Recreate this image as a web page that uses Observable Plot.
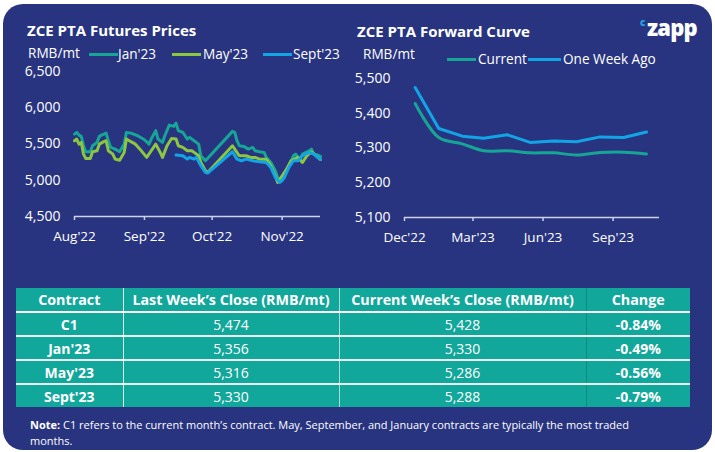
<!DOCTYPE html>
<html><head><meta charset="utf-8">
<script src="https://cdn.jsdelivr.net/npm/d3@7"></script>
<script src="https://cdn.jsdelivr.net/npm/@observablehq/plot@0.6"></script>
<style>
html,body{margin:0;padding:0;background:#fff;}
body{width:715px;height:452px;position:relative;overflow:hidden;font-family:"Open Sans",sans-serif;}
#card{position:absolute;left:3px;top:4px;width:709px;height:446px;background:#283480;border-radius:20px;}
.abs{position:absolute;white-space:nowrap;}
.title{color:#fff;font-weight:700;font-size:15px;line-height:15px;}
.lg{color:#fff;font-size:13.6px;line-height:13.6px;}
.sw{position:absolute;width:29px;height:3px;}
#tbl{position:absolute;left:16px;top:288px;width:674px;border-collapse:collapse;background:#12a79b;color:#fff;font-size:14px;table-layout:fixed;}
#tbl th{height:23px;font-weight:700;border-bottom:2px solid #fff;padding:0;text-align:center;font-size:14.3px;}
#tbl td{height:22px;padding:0;text-align:center;border-bottom:2px solid #eef6f5;}
#tbl tr:last-child td{border-bottom:none;}
#tbl td.b{font-weight:700;}
#tbl .c1{border-right:1.5px solid #d8efec;}
#tbl .c2{border-right:1px solid #a9d9d4;}
#tbl .c3{border-right:1px solid #0e8d84;}
.note{color:#fff;font-size:11px;line-height:16px;}
</style></head>
<body>
<div id="card"></div>
<div class="abs title" style="left:27px;top:23px;">ZCE PTA Futures Prices</div>
<div class="abs title" style="left:357px;top:24px;">ZCE PTA Forward Curve</div>
<div class="abs" style="left:640px;top:15px;color:#1ea7e8;font-size:10px;font-weight:800;">c</div>
<div class="abs" style="left:647px;top:12px;color:#fff;font-size:22px;font-weight:800;letter-spacing:-0.8px;">zapp</div>

<div class="abs lg" style="left:28px;top:46px;">RMB/mt</div>
<div class="sw" style="left:89px;top:53px;background:#17a596;"></div>
<div class="abs lg" style="left:118px;top:47px;">Jan'23</div>
<div class="sw" style="left:172px;top:53px;background:#8dc63f;"></div>
<div class="abs lg" style="left:203px;top:47px;">May'23</div>
<div class="sw" style="left:263px;top:53px;background:#12a5e6;"></div>
<div class="abs lg" style="left:293px;top:47px;">Sept'23</div>

<div class="abs lg" style="left:363px;top:47px;">RMB/mt</div>
<div class="sw" style="left:447px;top:58px;background:#17a596;"></div>
<div class="abs lg" style="left:478px;top:52px;">Current</div>
<div class="sw" style="left:528px;top:58px;width:33px;background:#12a5e6;"></div>
<div class="abs lg" style="left:563px;top:52px;">One Week Ago</div>

<div id="left" class="abs" style="left:0px;top:60px;"></div>
<div id="right" class="abs" style="left:340px;top:60px;"></div>

<table id="tbl"><colgroup><col style="width:107px"><col style="width:216px"><col style="width:247px"><col style="width:104px"></colgroup><thead></thead><tbody></tbody></table>
<div class="abs note" style="left:30px;top:417px;"><b>Note:</b> C1 refers to the current month’s contract. May, September, and January contracts are typically the most traded</div>
<div class="abs note" style="left:30px;top:433px;">months.</div>

<script>
// ---- Futures prices (RMB/mt) ----
const jan23 = [["2022-08-01",5636],["2022-08-02",5660],["2022-08-03",5623],["2022-08-04",5605],["2022-08-05",5476],["2022-08-06",5393],["2022-08-08",5393],["2022-08-09",5476],["2022-08-11",5522],["2022-08-12",5605],["2022-08-13",5623],["2022-08-15",5650],["2022-08-16",5545],["2022-08-17",5453],["2022-08-19",5429],["2022-08-21",5393],["2022-08-23",5498],["2022-08-24",5660],["2022-08-26",5650],["2022-08-29",5614],["2022-09-01",5559],["2022-09-03",5498],["2022-09-04",5568],["2022-09-06",5684],["2022-09-07",5568],["2022-09-09",5522],["2022-09-10",5614],["2022-09-12",5761],["2022-09-14",5743],["2022-09-15",5788],["2022-09-16",5684],["2022-09-18",5660],["2022-09-19",5614],["2022-09-20",5568],["2022-09-21",5591],["2022-09-23",5545],["2022-09-25",5498],["2022-09-26",5338],["2022-09-28",5269],["2022-10-10",5674],["2022-10-11",5660],["2022-10-12",5545],["2022-10-13",5476],["2022-10-15",5467],["2022-10-17",5429],["2022-10-19",5453],["2022-10-20",5407],["2022-10-22",5393],["2022-10-24",5384],["2022-10-25",5315],["2022-10-27",5246],["2022-10-29",5131],["2022-10-30",5039],["2022-11-01",4993],["2022-11-02",5084],["2022-11-03",5153],["2022-11-05",5269],["2022-11-06",5338],["2022-11-07",5360],["2022-11-09",5291],["2022-11-10",5360],["2022-11-13",5407],["2022-11-14",5429],["2022-11-15",5360],["2022-11-17",5345],["2022-11-18",5330]];
const may23 = [["2022-08-01",5545],["2022-08-02",5568],["2022-08-03",5498],["2022-08-04",5522],["2022-08-05",5360],["2022-08-06",5301],["2022-08-08",5301],["2022-08-09",5393],["2022-08-11",5407],["2022-08-12",5498],["2022-08-14",5532],["2022-08-15",5545],["2022-08-16",5407],["2022-08-18",5360],["2022-08-19",5291],["2022-08-21",5277],["2022-08-23",5384],["2022-08-24",5568],["2022-08-26",5532],["2022-08-28",5498],["2022-08-30",5429],["2022-09-02",5315],["2022-09-04",5407],["2022-09-06",5498],["2022-09-08",5384],["2022-09-09",5315],["2022-09-11",5476],["2022-09-13",5577],["2022-09-15",5568],["2022-09-16",5476],["2022-09-18",5453],["2022-09-20",5407],["2022-09-22",5407],["2022-09-23",5384],["2022-09-25",5338],["2022-09-26",5246],["2022-09-28",5131],["2022-09-29",5108],["2022-10-10",5476],["2022-10-11",5429],["2022-10-13",5338],["2022-10-16",5338],["2022-10-18",5315],["2022-10-20",5315],["2022-10-22",5291],["2022-10-25",5291],["2022-10-27",5200],["2022-10-29",5062],["2022-10-30",4970],["2022-11-01",5062],["2022-11-03",5153],["2022-11-05",5269],["2022-11-08",5315],["2022-11-10",5246],["2022-11-12",5338],["2022-11-14",5393],["2022-11-16",5338],["2022-11-18",5286]];
const sep23 = [["2022-09-15",5347],["2022-09-18",5338],["2022-09-20",5291],["2022-09-21",5315],["2022-09-23",5291],["2022-09-24",5315],["2022-09-26",5200],["2022-09-28",5108],["2022-09-29",5098],["2022-10-10",5393],["2022-10-12",5291],["2022-10-14",5269],["2022-10-16",5291],["2022-10-19",5269],["2022-10-22",5255],["2022-10-25",5246],["2022-10-27",5177],["2022-10-29",5039],["2022-10-31",4970],["2022-11-02",5039],["2022-11-04",5177],["2022-11-06",5269],["2022-11-08",5269],["2022-11-10",5338],["2022-11-13",5384],["2022-11-15",5360],["2022-11-17",5315],["2022-11-18",5288]];
const futuresXTicks = ["2022-08-01","2022-09-01","2022-10-01","2022-11-01"];
const futuresYTicks = [4500,5000,5500,6000,6500];

// ---- Forward curve (RMB/mt) ----
const fwdMonths = ["2022-12-15","2023-01-15","2023-02-15","2023-03-15","2023-04-15","2023-05-15","2023-06-15","2023-07-15","2023-08-15","2023-09-15","2023-10-15"];
const currentCurve = [5428,5330,5312,5292,5292,5286,5286,5280,5287,5288,5283];
const weekAgoCurve = [5474,5356,5334,5328,5338,5316,5320,5318,5332,5330,5346];
const fwdXTicks = ["2022-12-01","2023-03-01","2023-06-01","2023-09-01"];
const fwdYTicks = [5100,5200,5300,5400,5500];

// ---- Table ----
const contracts = ["C1","Jan'23","May'23","Sept'23"];
const lastWeekClose = [5474,5356,5316,5330];
const currentWeekClose = [5428,5330,5286,5288];
const changePct = ["-0.84%","-0.49%","-0.56%","-0.79%"];
const headers = ["Contract","Last Week’s Close (RMB/mt)","Current Week’s Close (RMB/mt)","Change"];

const TEAL = "#17a596", GREEN = "#8dc63f", BLUE = "#12a5e6", AXIS = "#cdd1e2";
const fmtM = d3.utcFormat("%b'%y");
const fmtN = d3.format(",");
const P = d => new Date(d[0]);

const left = Plot.plot({
  width: 345, height: 190,
  marginLeft: 74, marginRight: 25, marginTop: 11, marginBottom: 34,
  style: {background: "transparent", color: "#fff", fontFamily: "Open Sans", fontSize: "14px", overflow: "visible"},
  x: {type: "utc", domain: [new Date("2022-08-01"), new Date("2022-11-18")]},
  y: {domain: [4500, 6500]},
  marks: [
    Plot.axisY({ticks: futuresYTicks, tickSize: 0, tickPadding: 14, tickFormat: fmtN, label: null, fontSize: 14}),
    Plot.axisX({ticks: futuresXTicks.map(d => new Date(d)), tickSize: 4, tickPadding: 11, tickFormat: fmtM, label: null, stroke: AXIS, strokeWidth: 1.5, fontSize: 13.5}),
    Plot.ruleY([4500], {stroke: AXIS, strokeWidth: 1.5}),
    Plot.line(jan23, {x: P, y: d => d[1], stroke: TEAL, strokeWidth: 3}),
    Plot.line(may23, {x: P, y: d => d[1], stroke: GREEN, strokeWidth: 3}),
    Plot.line(sep23, {x: P, y: d => d[1], stroke: BLUE, strokeWidth: 3})
  ]
});
document.getElementById("left").appendChild(left);

const fwd = fwdMonths.map((m, i) => ({date: new Date(m), current: currentCurve[i], weekAgo: weekAgoCurve[i]}));
const right = Plot.plot({
  width: 375, height: 190,
  marginLeft: 64, marginRight: 56, marginTop: 18, marginBottom: 33,
  style: {background: "transparent", color: "#fff", fontFamily: "Open Sans", fontSize: "14px", overflow: "visible"},
  x: {type: "utc", domain: [new Date("2022-12-01"), new Date("2023-11-01")]},
  y: {domain: [5100, 5500]},
  marks: [
    Plot.axisY({ticks: fwdYTicks, tickSize: 0, tickPadding: 14, tickFormat: fmtN, label: null, fontSize: 14}),
    Plot.axisX({ticks: fwdXTicks.map(d => new Date(d)), tickSize: 4, tickPadding: 11, tickFormat: fmtM, label: null, stroke: AXIS, strokeWidth: 1.5, fontSize: 13.5}),
    Plot.ruleY([5100], {stroke: AXIS, strokeWidth: 1.5}),
    Plot.line(fwd, {x: "date", y: "current", stroke: TEAL, strokeWidth: 3, curve: "catmull-rom"}),
    Plot.line(fwd, {x: "date", y: "weekAgo", stroke: BLUE, strokeWidth: 3})
  ]
});
document.getElementById("right").appendChild(right);

// table
const thead = document.querySelector("#tbl thead");
thead.innerHTML = "<tr>" + headers.map((h, i) => `<th class="c${i+1}">${h}</th>`).join("") + "</tr>";
const tbody = document.querySelector("#tbl tbody");
tbody.innerHTML = contracts.map((c, i) =>
  `<tr><td class="b c1">${c}</td><td class="c2">${fmtN(lastWeekClose[i])}</td><td class="c3">${fmtN(currentWeekClose[i])}</td><td class="b">${changePct[i]}</td></tr>`
).join("");
</script>
</body></html>
